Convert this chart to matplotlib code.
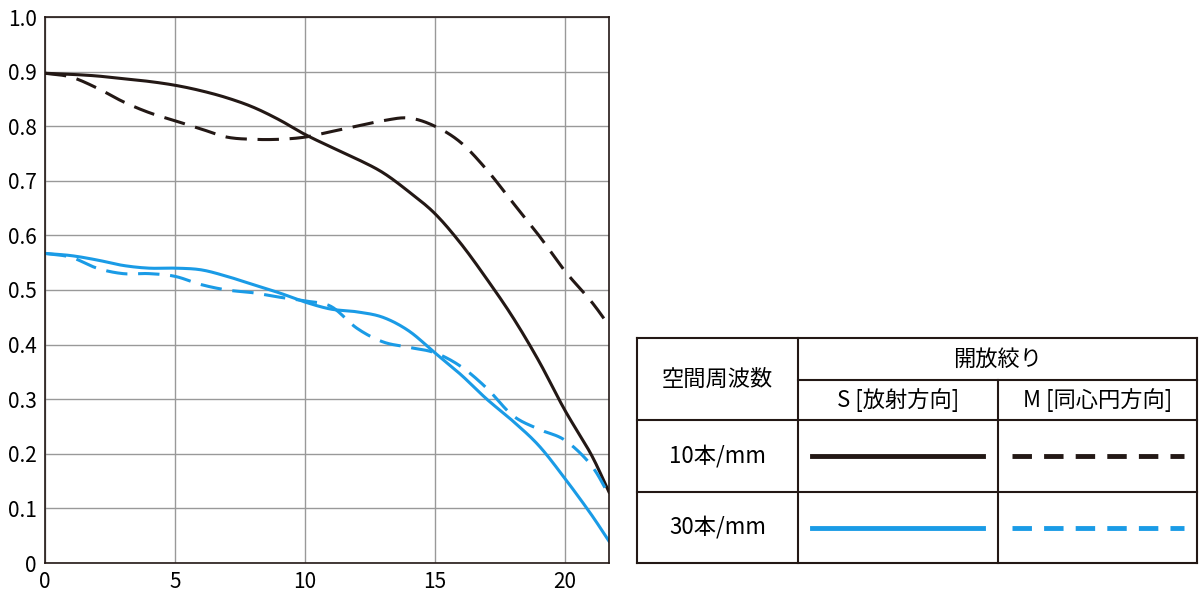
import numpy as np
import matplotlib
matplotlib.use("Agg")
import matplotlib.pyplot as plt
from matplotlib.lines import Line2D

plt.rcParams['font.family'] = ['Noto Sans CJK JP', 'DejaVu Sans']

x = [0,1,2,3,4,5,6,7,8,9,10,11,12,13,14,15,16,17,18,19,20,21,21.7]
s10 = [0.897,0.895,0.892,0.887,0.882,0.875,0.865,0.852,0.835,0.812,0.785,0.762,0.74,0.715,0.68,0.64,0.585,0.52,0.45,0.37,0.28,0.2,0.13]
m10 = [0.897,0.89,0.87,0.845,0.825,0.81,0.795,0.78,0.776,0.776,0.78,0.79,0.8,0.81,0.815,0.8,0.77,0.72,0.66,0.6,0.535,0.48,0.435]
s30 = [0.567,0.563,0.555,0.545,0.54,0.54,0.537,0.525,0.51,0.495,0.478,0.465,0.46,0.45,0.425,0.385,0.345,0.3,0.26,0.215,0.155,0.09,0.04]
m30 = [0.567,0.56,0.54,0.53,0.53,0.525,0.51,0.5,0.495,0.487,0.48,0.47,0.43,0.405,0.395,0.385,0.36,0.32,0.27,0.245,0.225,0.18,0.125]

BLACK = '#231815'
BLUE = '#1a9be6'

def smooth(xs, ys, n=20):
    xs = np.asarray(xs, float); ys = np.asarray(ys, float)
    px = np.concatenate([[2*xs[0]-xs[1]], xs, [2*xs[-1]-xs[-2]]])
    py = np.concatenate([[2*ys[0]-ys[1]], ys, [2*ys[-1]-ys[-2]]])
    ox, oy = [], []
    for i in range(1, len(px)-2):
        t = np.linspace(0, 1, n, endpoint=False)
        for P, out in ((px, ox), (py, oy)):
            p0, p1, p2, p3 = P[i-1], P[i], P[i+1], P[i+2]
            out.extend(0.5*((2*p1) + (-p0+p2)*t + (2*p0-5*p1+4*p2-p3)*t**2 + (-p0+3*p1-3*p2+p3)*t**3))
    ox.append(xs[-1]); oy.append(ys[-1])
    return ox, oy

fig = plt.figure(figsize=(12, 6), dpi=100)
ax = fig.add_axes([45/1200, 1-563/600, (609-45)/1200, (563-17)/600])
ax.set_xlim(0, 21.7); ax.set_ylim(0, 1.0)
ax.set_xticks([0,5,10,15,20])
ax.set_yticks(np.arange(0, 1.01, 0.1))
ax.set_yticklabels(['0'] + [f'{v:.1f}' for v in np.arange(0.1, 1.01, 0.1)])
ax.grid(True, color='#999999', lw=1)
ax.tick_params(length=0, labelsize=15, pad=6)
for sp in ax.spines.values():
    sp.set_color(BLACK); sp.set_linewidth(1.2)

dash = (0, (7, 3.5))
ax.plot(*smooth(x, s10), color=BLACK, lw=2.2)
ax.plot(*smooth(x, m10), color=BLACK, lw=2.2, linestyle=dash)
ax.plot(*smooth(x, s30), color=BLUE, lw=2.2)
ax.plot(*smooth(x, m30), color=BLUE, lw=2.2, linestyle=dash)

# legend table
W, H = 1200, 600
def fx(p): return p/W
def fy(p): return 1-p/H
def hl(x0, x1, y, lw=1.5):
    fig.add_artist(Line2D([fx(x0), fx(x1)], [fy(y), fy(y)], color=BLACK, lw=lw))
def vl(x, y0, y1, lw=1.5):
    fig.add_artist(Line2D([fx(x), fx(x)], [fy(y0), fy(y1)], color=BLACK, lw=lw))
L, C1, C2, R = 637, 798, 998, 1197
T, Y1, Y2, Y3, B = 338, 380, 420, 492, 563
hl(L, R, T); hl(L, R, B); hl(L, R, Y2); hl(L, R, Y3); hl(C1, R, Y1)
vl(L, T, B); vl(R, T, B); vl(C1, T, B); vl(C2, Y1, B)
fs = 16
fig.text(fx((L+C1)/2), fy((T+Y2)/2), '空間周波数', ha='center', va='center', fontsize=fs)
fig.text(fx((C1+R)/2), fy((T+Y1)/2), '開放絞り', ha='center', va='center', fontsize=fs)
fig.text(fx((C1+C2)/2), fy((Y1+Y2)/2), 'S [放射方向]', ha='center', va='center', fontsize=fs)
fig.text(fx((C2+R)/2), fy((Y1+Y2)/2), 'M [同心円方向]', ha='center', va='center', fontsize=fs)
fig.text(fx((L+C1)/2), fy((Y2+Y3)/2), '10本/mm', ha='center', va='center', fontsize=fs)
fig.text(fx((L+C1)/2), fy((Y3+B)/2), '30本/mm', ha='center', va='center', fontsize=fs)
for yy, col in (((Y2+Y3)/2, BLACK), ((Y3+B)/2, BLUE)):
    fig.add_artist(Line2D([fx(812), fx(983)], [fy(yy)]*2, color=col, lw=3.5))
    fig.add_artist(Line2D([fx(1012), fx(1184)], [fy(yy)]*2, color=col, lw=3.5, linestyle=(0, (4, 2.5))))

fig.savefig('out.png', dpi=100)
